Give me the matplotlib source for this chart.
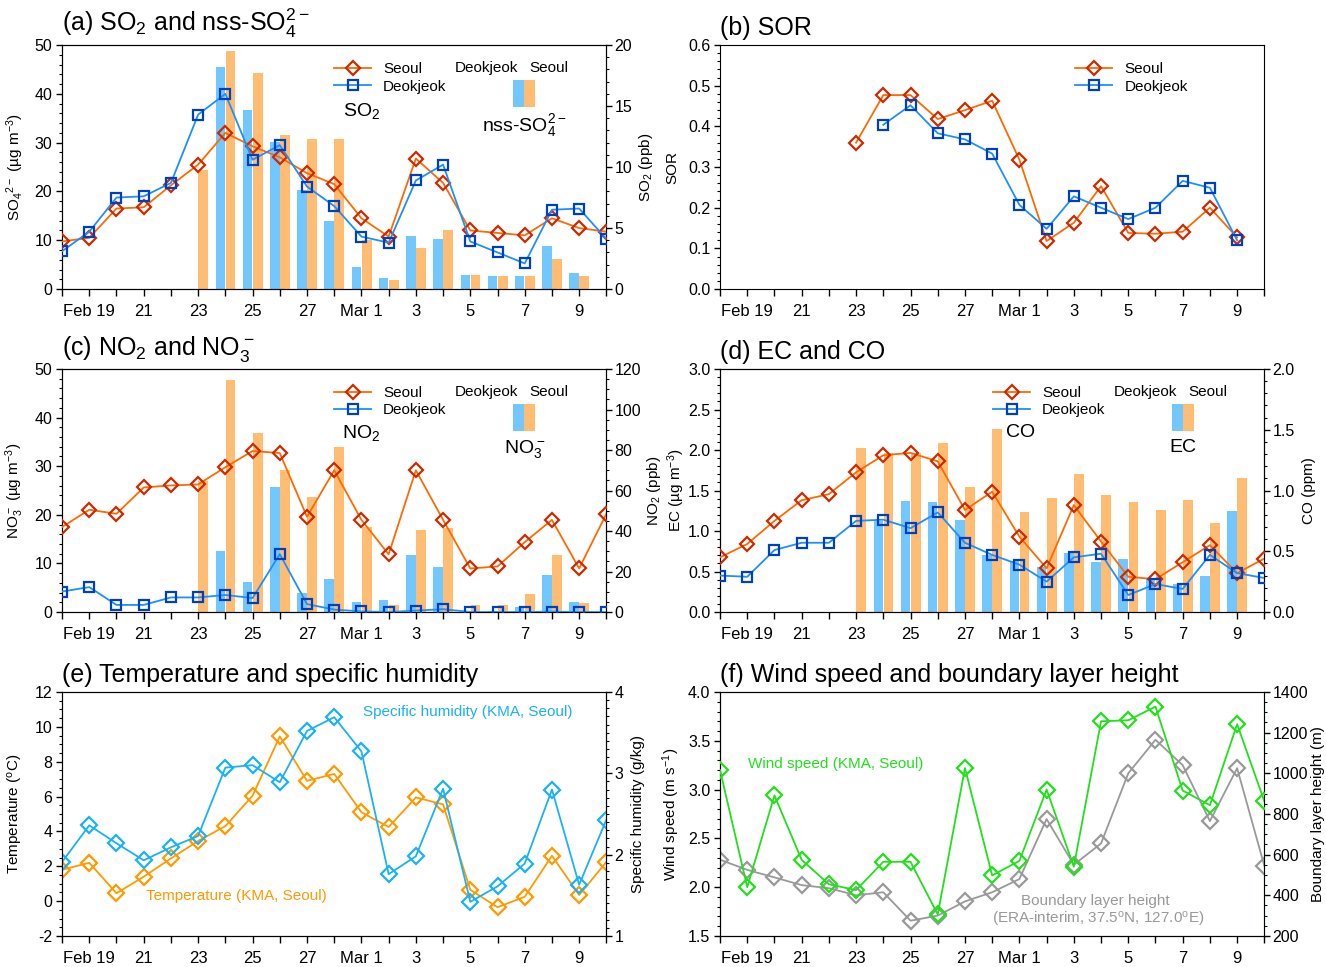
import matplotlib
matplotlib.use("Agg")
import matplotlib.pyplot as plt
import numpy as np
from matplotlib.patches import Rectangle
from matplotlib.ticker import AutoMinorLocator, MultipleLocator, FormatStrFormatter

plt.rcParams["font.family"] = ["Liberation Sans", "DejaVu Sans"]
plt.rcParams["mathtext.fontset"] = "custom"
plt.rcParams["mathtext.rm"] = "Liberation Sans"
plt.rcParams["mathtext.default"] = "regular"
plt.rcParams["axes.unicode_minus"] = False

nan = np.nan

# days Feb 18 ... Mar 10
days = np.arange(21)
day_labels = ["", "Feb 19", "", "21", "", "23", "", "25", "", "27", "",
              "Mar 1", "", "3", "", "5", "", "7", "", "9", ""]

# (a) SO2 (ppb) and nss-SO4 (ug m-3)
so2_seoul = [3.9, 4.2, 6.6, 6.7, 8.5, 10.2, 12.8, 11.7, 10.8, 9.5, 8.6,
             5.8, 4.3, 10.7, 8.7, 4.8, 4.6, 4.4, 5.8, 5.0, 4.7]
so2_deok = [3.1, 4.7, 7.5, 7.6, 8.7, 14.3, 16.0, 10.6, 11.8, 8.4, 6.8,
            4.3, 3.8, 8.9, 10.2, 3.9, 3.0, 2.1, 6.5, 6.6, 4.1]
so4_deok = [nan, nan, nan, nan, nan, nan, 45.5, 36.6, 30.2, 20.3, 14.0,
            4.5, 2.2, 10.8, 10.3, 2.8, 2.6, 2.6, 8.8, 3.3, nan]
so4_seoul = [nan, nan, nan, nan, nan, 24.3, 48.7, 44.2, 31.6, 30.8, 30.8,
             10.0, 1.9, 8.5, 12.1, 2.8, 2.6, 2.6, 6.1, 2.6, nan]

# (b) SOR
sor_seoul = [nan, nan, nan, nan, nan, 0.36, 0.477, 0.477, 0.418, 0.44, 0.463,
             0.318, 0.118, 0.163, 0.253, 0.138, 0.136, 0.141, 0.2, 0.127, nan]
sor_deok = [nan, nan, nan, nan, nan, nan, 0.404, 0.452, 0.383, 0.368, 0.333,
            0.207, 0.148, 0.228, 0.2, 0.172, 0.2, 0.266, 0.249, 0.12, nan]

# (c) NO2 (ppb) and NO3 (ug m-3)
no2_seoul = [42, 50.5, 48.5, 61.5, 62.5, 63, 71.5, 79.5, 78.5, 47, 70,
             45.5, 28.5, 70, 45.5, 21.5, 22.5, 34.5, 45.5, 21.5, 48.5]
no2_deok = [10.1, 12.3, 3.5, 3.5, 7.2, 7.2, 8.4, 6.9, 28.6, 3.9, 1.2,
            0.3, 0.0, 0.7, 1.4, 0.0, 0.0, 0.0, 0.2, 0.0, 0.0]
no3_deok = [nan, nan, nan, nan, nan, nan, 12.5, 6.1, 25.8, 4.0, 6.8,
            2.0, 2.5, 11.8, 9.3, 0.3, 0.3, 1.0, 7.7, 2.1, nan]
no3_seoul = [nan, nan, nan, nan, nan, 27.0, 47.8, 36.8, 29.3, 23.7, 34.0,
             17.5, 1.5, 16.8, 17.3, 1.5, 1.5, 3.7, 11.8, 1.8, nan]

# (d) CO (ppm) and EC (ug m-3)
co_seoul = [0.45, 0.56, 0.75, 0.92, 0.97, 1.15, 1.29, 1.31, 1.24, 0.84, 0.99,
            0.62, 0.36, 0.88, 0.58, 0.29, 0.27, 0.41, 0.55, 0.32, 0.44]
co_deok = [0.30, 0.29, 0.51, 0.57, 0.57, 0.75, 0.76, 0.69, 0.82, 0.57, 0.47,
           0.39, 0.25, 0.45, 0.48, 0.14, 0.23, 0.19, 0.47, 0.32, 0.28]
ec_deok = [nan, nan, nan, nan, nan, nan, 1.12, 1.37, 1.36, 1.13, 0.70,
           0.63, 0.55, 0.73, 0.62, 0.66, 0.42, 0.35, 0.44, 1.25, nan]
ec_seoul = [nan, nan, nan, nan, nan, 2.03, 1.96, 1.96, 2.09, 1.54, 2.26,
            1.24, 1.41, 1.70, 1.44, 1.36, 1.26, 1.38, 1.10, 1.65, nan]

# (e) temperature (C) and specific humidity (g/kg)
temperature = [1.8, 2.2, 0.45, 1.4, 2.45, 3.45, 4.3, 6.05, 9.45, 6.9, 7.3,
               5.1, 4.25, 5.95, 5.55, 0.65, -0.35, 0.25, 2.6, 0.35, 2.25]
humidity = [1.91, 2.36, 2.14, 1.93, 2.09, 2.23, 3.07, 3.10, 2.89, 3.52, 3.69,
            3.27, 1.76, 1.98, 2.81, 1.42, 1.61, 1.89, 2.80, 1.63, 2.43]

# (f) wind speed (m/s) and boundary layer height (m)
wind = [3.2, 2.0, 2.94, 2.28, 2.03, 1.97, 2.26, 2.26, 1.72, 3.22, 2.12,
        2.27, 3.0, 2.21, 3.7, 3.71, 3.85, 2.99, 2.84, 3.67, 2.88]
blh = [575, 525, 488, 450, 435, 400, 415, 275, 300, 370, 415,
       480, 775, 550, 655, 1000, 1165, 1040, 765, 1025, 545]

SEOUL_LINE, SEOUL_EDGE = "#ff6a00", "#cc2a00"
DEOK_LINE, DEOK_EDGE = "#1e8fff", "#0040c0"
BAR_BLUE, BAR_ORANGE = "#73c7ff", "#ffbd73"
TEMP_C, HUM_C, WIND_C, BLH_C = "#ff9a00", "#1ab2f5", "#22e01c", "#999999"

fig = plt.figure(figsize=(13.26, 9.67), dpi=100)

col_left = [0.0468, 0.5430]
width = 0.4105
rows = [(0.7011, 0.2523), (0.3671, 0.2513), (0.0321, 0.2523)]


def make_ax(r, c):
    ax = fig.add_axes([col_left[c], rows[r][0], width, rows[r][1]])
    ax.set_xlim(0, 20)
    ax.set_xticks(days)
    ax.set_xticklabels(day_labels)
    ax.tick_params(axis="x", direction="out", length=5, width=1, pad=6, labelsize=12)
    ax.tick_params(axis="y", which="major", direction="out", length=4, width=1, pad=3, labelsize=11.5)
    ax.tick_params(axis="y", which="minor", direction="out", length=2, width=0.8)
    ax.yaxis.set_minor_locator(AutoMinorLocator(5))
    return ax


def style_right(ax2, minor=4):
    ax2.tick_params(axis="y", which="major", direction="out", length=4, width=1, pad=2, labelsize=11.5)
    ax2.tick_params(axis="y", which="minor", direction="out", length=2, width=0.8)
    ax2.yaxis.set_minor_locator(AutoMinorLocator(minor))


def ylabels(ax, text, xpos, ax2=None, text2=None, xpos2=None):
    ax.set_ylabel(text, fontsize=11)
    ax.yaxis.set_label_coords(xpos, 0.5)
    if ax2 is not None:
        ax2.set_ylabel(text2, fontsize=11)
        ax2.yaxis.set_label_coords(xpos2, 0.5)


def title(ax, text):
    ax.text(0.0, 1.02, text, transform=ax.transAxes, fontsize=18, ha="left", va="bottom")


def station_lines(ax, seoul, deok):
    l1, = ax.plot(days, seoul, color=SEOUL_LINE, lw=1.3, marker="D", ms=7,
                  mfc="none", mec=SEOUL_EDGE, mew=1.6, label="Seoul", zorder=3)
    l2, = ax.plot(days, deok, color=DEOK_LINE, lw=1.3, marker="s", ms=6.5,
                  mfc="none", mec=DEOK_EDGE, mew=1.6, label="Deokjeok", zorder=3)
    return l1, l2


def station_bars(ax, deok, seoul):
    ax.bar(days - 0.36, deok, width=0.35, align="edge", color=BAR_BLUE, lw=0)
    ax.bar(days + 0.01, seoul, width=0.36, align="edge", color=BAR_ORANGE, lw=0)


def line_legend(ax, handles, x):
    ax.legend(handles=handles, loc="upper left", bbox_to_anchor=(x, 0.93),
              frameon=False, fontsize=11, handlelength=2.4, handletextpad=0.8,
              labelspacing=0.22, borderpad=0, borderaxespad=0)


def legend_block(ax, handles, line_x, line_lab, line_lab_y, bar_lab, x_deok, x_seoul, patch_x, bar_lab_y):
    line_legend(ax, handles, line_x)
    ax.text(line_x + 0.05, line_lab_y, line_lab, transform=ax.transAxes,
            fontsize=14, ha="center", va="center")
    ax.text(x_deok, 0.905, "Deokjeok", transform=ax.transAxes, fontsize=11, ha="center", va="center")
    ax.text(x_seoul, 0.905, "Seoul", transform=ax.transAxes, fontsize=11, ha="center", va="center")
    ax.add_patch(Rectangle((patch_x, 0.745), 0.02, 0.11, transform=ax.transAxes,
                           color=BAR_BLUE, lw=0, zorder=5))
    ax.add_patch(Rectangle((patch_x + 0.02, 0.745), 0.02, 0.11, transform=ax.transAxes,
                           color=BAR_ORANGE, lw=0, zorder=5))
    ax.text(patch_x + 0.02, bar_lab_y, bar_lab, transform=ax.transAxes,
            fontsize=14, ha="center", va="center")


# (a)
ax = make_ax(0, 0)
station_bars(ax, so4_deok, so4_seoul)
ax.set_ylim(0, 50)
ax.yaxis.set_major_locator(MultipleLocator(10))
ax2 = ax.twinx()
h = station_lines(ax2, so2_seoul, so2_deok)
ax2.set_ylim(0, 20)
ax2.yaxis.set_major_locator(MultipleLocator(5))
style_right(ax2, 5)
ylabels(ax, "SO$_4$$^{2-}$ (µg m$^{-3}$)", -0.066, ax2, "SO$_2$ (ppb)", 1.056)
legend_block(ax2, h, 0.50, "SO$_2$", 0.73, "nss-SO$_4^{2-}$", 0.78, 0.895, 0.829, 0.672)
title(ax, "(a) SO$_2$ and nss-SO$_4^{2-}$")

# (b)
ax = make_ax(0, 1)
h = station_lines(ax, sor_seoul, sor_deok)
ax.set_ylim(0, 0.6)
ax.yaxis.set_major_locator(MultipleLocator(0.1))
ax.yaxis.set_major_formatter(FormatStrFormatter("%.1f"))
ylabels(ax, "SOR", -0.075)
line_legend(ax, h, 0.653)
title(ax, "(b) SOR")

# (c)
ax = make_ax(1, 0)
station_bars(ax, no3_deok, no3_seoul)
ax.set_ylim(0, 50)
ax.yaxis.set_major_locator(MultipleLocator(10))
ax2 = ax.twinx()
h = station_lines(ax2, no2_seoul, no2_deok)
ax2.set_ylim(0, 120)
ax2.yaxis.set_major_locator(MultipleLocator(20))
style_right(ax2, 4)
ylabels(ax, "NO$_3^-$ (µg m$^{-3}$)", -0.066, ax2, "NO$_2$ (ppb)", 1.071)
legend_block(ax2, h, 0.50, "NO$_2$", 0.735, "NO$_3^-$", 0.78, 0.895, 0.829, 0.672)
title(ax, "(c) NO$_2$ and NO$_3^-$")

# (d)
ax = make_ax(1, 1)
station_bars(ax, ec_deok, ec_seoul)
ax.set_ylim(0, 3.0)
ax.yaxis.set_major_locator(MultipleLocator(0.5))
ax.yaxis.set_major_formatter(FormatStrFormatter("%.1f"))
ax2 = ax.twinx()
h = station_lines(ax2, co_seoul, co_deok)
ax2.set_ylim(0, 2.0)
ax2.yaxis.set_major_locator(MultipleLocator(0.5))
ax2.yaxis.set_major_formatter(FormatStrFormatter("%.1f"))
style_right(ax2, 5)
ylabels(ax, "EC (µg m$^{-3}$)", -0.061, ax2, "CO (ppm)", 1.07)
legend_block(ax2, h, 0.502, "CO", 0.74, "EC", 0.781, 0.897, 0.831, 0.679)
title(ax, "(d) EC and CO")

# (e)
ax = make_ax(2, 0)
ax.plot(days, temperature, color=TEMP_C, lw=1.3, marker="D", ms=8, mfc="none",
        mec=TEMP_C, mew=1.6)
ax.set_ylim(-2, 12)
ax.yaxis.set_major_locator(MultipleLocator(2))
ax.yaxis.set_minor_locator(AutoMinorLocator(4))
ax2 = ax.twinx()
ax2.plot(days, humidity, color=HUM_C, lw=1.3, marker="D", ms=8, mfc="none",
         mec=HUM_C, mew=1.6)
ax2.set_ylim(1, 4)
ax2.yaxis.set_major_locator(MultipleLocator(1))
style_right(ax2, 10)
ylabels(ax, "Temperature ($^o$C)", -0.068, ax2, "Specific humidity (g/kg)", 1.045)
ax.text(0.745, 0.918, "Specific humidity (KMA, Seoul)", transform=ax.transAxes,
        color=HUM_C, fontsize=11, ha="center", va="center")
ax.text(0.32, 0.164, "Temperature (KMA, Seoul)", transform=ax.transAxes,
        color=TEMP_C, fontsize=11, ha="center", va="center")
title(ax, "(e) Temperature and specific humidity")

# (f)
ax = make_ax(2, 1)
ax.plot(days, wind, color=WIND_C, lw=1.3, marker="D", ms=8, mfc="none",
        mec=WIND_C, mew=1.6, zorder=4)
ax.set_ylim(1.5, 4.0)
ax.yaxis.set_major_locator(MultipleLocator(0.5))
ax.yaxis.set_major_formatter(FormatStrFormatter("%.1f"))
ax2 = ax.twinx()
ax2.plot(days, blh, color=BLH_C, lw=1.3, marker="D", ms=8, mfc="none",
         mec=BLH_C, mew=1.6)
ax2.set_ylim(200, 1400)
ax2.yaxis.set_major_locator(MultipleLocator(200))
style_right(ax2, 4)
ax2.spines["right"].set_color(WIND_C)
ylabels(ax, "Wind speed (m s$^{-1}$)", -0.07, ax2, "Boundary layer height (m)", 1.085)
ax.set_zorder(ax2.get_zorder() + 1)
ax.patch.set_visible(False)
ax.text(0.213, 0.705, "Wind speed (KMA, Seoul)", transform=ax.transAxes,
        color=WIND_C, fontsize=11, ha="center", va="center")
ax.text(0.689, 0.143, "Boundary layer height", transform=ax.transAxes,
        color=BLH_C, fontsize=11, ha="center", va="center")
ax.text(0.695, 0.066, "(ERA-interim, 37.5$^o$N, 127.0$^o$E)", transform=ax.transAxes,
        color=BLH_C, fontsize=11, ha="center", va="center")
title(ax, "(f) Wind speed and boundary layer height")

fig.savefig("out.png", dpi=100)
